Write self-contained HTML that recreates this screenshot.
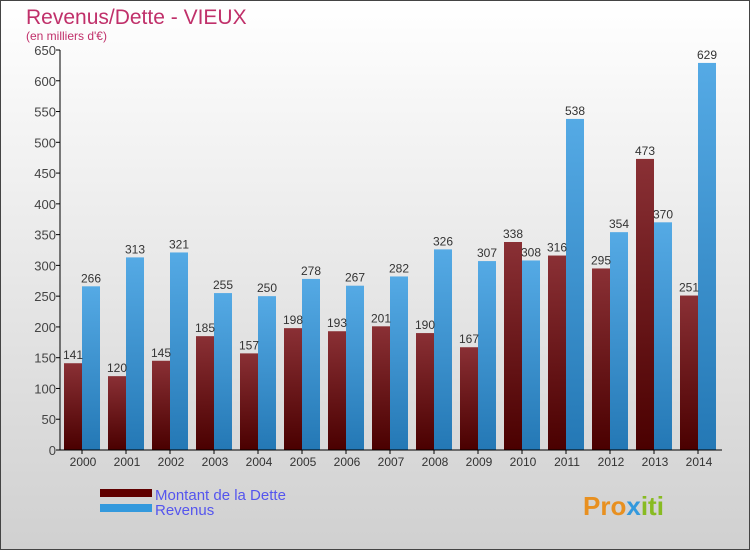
<!DOCTYPE html>
<html><head><meta charset="utf-8"><style>
body{margin:0;width:750px;height:550px;overflow:hidden;font-family:"Liberation Sans",sans-serif}
</style></head><body>
<svg width="750" height="550" id="c">
<defs>
<linearGradient id="bg" x1="0" y1="0" x2="0" y2="1"><stop offset="0" stop-color="#ffffff"/><stop offset="1" stop-color="#d0d0d0"/></linearGradient>
<linearGradient id="gd" x1="0" y1="0" x2="0" y2="1"><stop offset="0" stop-color="#8a3035"/><stop offset="1" stop-color="#4a0000"/></linearGradient>
<linearGradient id="gr" x1="0" y1="0" x2="0" y2="1"><stop offset="0" stop-color="#55aae5"/><stop offset="1" stop-color="#2478b5"/></linearGradient>
</defs>
<rect x="0.5" y="0.5" width="749" height="549" fill="url(#bg)" stroke="#444"/>
<text x="26" y="24" font-size="21" fill="#c0306a">Revenus/Dette - VIEUX</text>
<text x="26" y="40" font-size="12" fill="#c0306a">(en milliers d'€)</text>
<g id="g"></g>
<g>
<rect x="100" y="489" width="52" height="8" fill="#600000"/>
<text x="155" y="500" font-size="15" fill="#5555ee">Montant de la Dette</text>
<rect x="100" y="504" width="52" height="8" fill="#3399dd"/>
<text x="155" y="515" font-size="15" fill="#5555ee">Revenus</text>
</g>
<text x="583" y="515" font-size="26" font-weight="bold" fill="#e89020">Pro<tspan fill="#3399dd">x</tspan><tspan fill="#88bb22">iti</tspan></text>
</svg>
<script>
const years=["2000","2001","2002","2003","2004","2005","2006","2007","2008","2009","2010","2011","2012","2013","2014"];
const dette=[141,120,145,185,157,198,193,201,190,167,338,316,295,473,251];
const revenus=[266,313,321,255,250,278,267,282,326,307,308,538,354,370,629];
const ticks=[0,50,100,150,200,250,300,350,400,450,500,550,600,650];
const NS="http://www.w3.org/2000/svg",g=document.getElementById('g');
const y=v=>450-v*400/650, x0=i=>64+i*44;
function mk(t,a,p){const e=document.createElementNS(NS,t);for(const k in a)e.setAttribute(k,a[k]);(p||g).appendChild(e);return e;}
ticks.forEach(t=>{
 const l=mk('line',{x1:56,x2:60,y1:y(t),y2:y(t),stroke:'#000'});
 
 
 const tx=mk('text',{x:56,y:y(t)+5,'font-size':13,fill:'#444','text-anchor':'end'});tx.textContent=t;
 
 
});
years.forEach((yr,i)=>{
 const a=mk('rect',{x:x0(i),y:y(dette[i]),width:18,height:450-y(dette[i]),fill:'url(#gd)'});
 
 
 const b=mk('rect',{x:x0(i)+18,y:y(revenus[i]),width:18,height:450-y(revenus[i]),fill:'url(#gr)'});
 
 
 const t1=mk('text',{x:x0(i)+9,y:y(dette[i])-4,'font-size':12,fill:'#333','text-anchor':'middle'});t1.textContent=dette[i];
 
 
 const t2=mk('text',{x:x0(i)+27,y:y(revenus[i])-4,'font-size':12,fill:'#333','text-anchor':'middle'});t2.textContent=revenus[i];
 
 
 const xl=mk('text',{x:x0(i)+19,y:466,'font-size':12,fill:'#333','text-anchor':'middle'});xl.textContent=yr;
 
 
 const tk=mk('line',{x1:x0(i)+18,x2:x0(i)+18,y1:450,y2:454,stroke:'#000'});
 
 
});
const ya=mk('line',{x1:60,x2:60,y1:50,y2:450,stroke:'#000'});


const xa=mk('line',{x1:60,x2:722,y1:450,y2:450,stroke:'#000'});


</script>
</body></html>
